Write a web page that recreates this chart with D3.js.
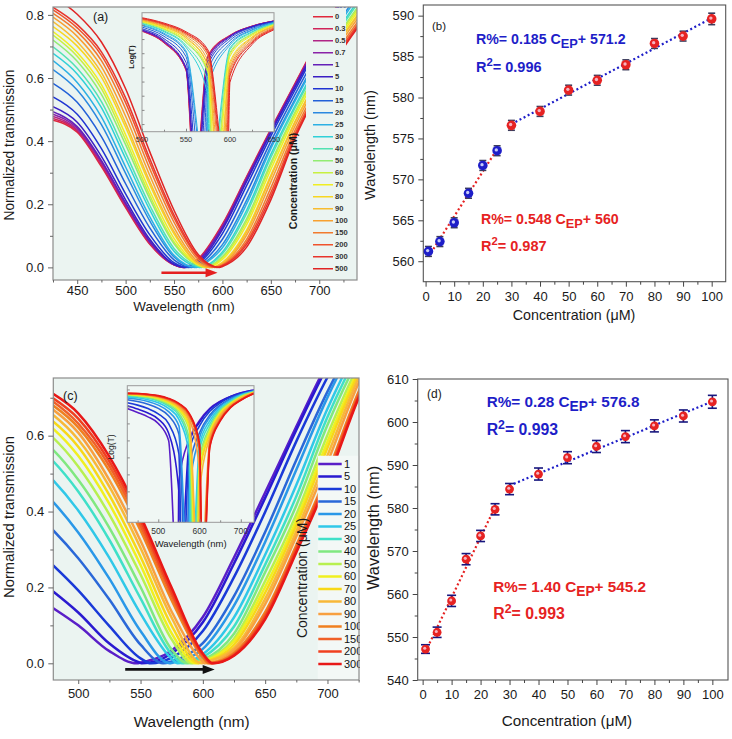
<!DOCTYPE html>
<html>
<head>
<meta charset="utf-8">
<script src="https://cdn.jsdelivr.net/npm/d3@7"></script>
<style>
body { margin: 0; background: #fff; }
svg { display: block; }
</style>
</head>
<body>
<svg id="fig" width="732" height="739"></svg>
<script>
// ---------- data: panel (a) spectra, normalized transmission ----------
const gridA = [425, 450, 475, 500, 525, 550, 575, 600, 625, 650, 675, 700, 725, 750]
const concA = ["0", "0.3", "0.5", "0.7", "1", "5", "10", "15", "20", "25", "30", "40", "50", "60", "70", "80", "90", "100", "150", "200", "300", "500"]
const colorA = ["#e0283c", "#d0245a", "#b02486", "#8a22a8", "#6420b8", "#3a1ec4", "#1f34d2", "#2260d8", "#2a88e0", "#2cb0e4", "#30d0d8", "#52e2b2", "#92ec72", "#c8f040", "#f0ee22", "#f8d620", "#f8bc30", "#f8a030", "#f27a2e", "#f0522c", "#e8342c", "#e02424"]
const dipA = [559.5, 560, 560.5, 561, 561.2, 562.4, 564.7, 568.3, 571.7, 573.5, 576.6, 578.3, 580.9, 582.1, 584, 586.6, 587.5, 589.6, 592, 594, 595.5, 597]
const transA = [
    [0.466, 0.428, 0.319, 0.189, 0.073, 0.008, 0.027, 0.137, 0.288, 0.438, 0.583, 0.727, 0.864, 0.97],
    [0.472, 0.432, 0.324, 0.193, 0.075, 0.008, 0.025, 0.134, 0.285, 0.436, 0.581, 0.724, 0.862, 0.965],
    [0.478, 0.436, 0.330, 0.197, 0.078, 0.009, 0.023, 0.131, 0.283, 0.433, 0.578, 0.722, 0.86, 0.963],
    [0.485, 0.441, 0.335, 0.201, 0.081, 0.009, 0.021, 0.128, 0.28, 0.431, 0.576, 0.72, 0.857, 0.96],
    [0.493, 0.446, 0.339, 0.204, 0.082, 0.009, 0.021, 0.127, 0.28, 0.432, 0.577, 0.719, 0.856, 0.96],
    [0.509, 0.46, 0.352, 0.214, 0.089, 0.01, 0.016, 0.12, 0.272, 0.426, 0.571, 0.713, 0.85, 0.96],
    [0.54, 0.485, 0.376, 0.233, 0.103, 0.015, 0.012, 0.107, 0.259, 0.416, 0.562, 0.705, 0.836, 0.945],
    [0.583, 0.523, 0.414, 0.265, 0.125, 0.024, 0.008, 0.089, 0.236, 0.399, 0.548, 0.688, 0.817, 0.927],
    [0.627, 0.562, 0.452, 0.298, 0.147, 0.033, 0.004, 0.072, 0.213, 0.384, 0.533, 0.673, 0.799, 0.91],
    [0.655, 0.586, 0.477, 0.318, 0.16, 0.038, 0.002, 0.062, 0.201, 0.376, 0.527, 0.667, 0.791, 0.902],
    [0.678, 0.613, 0.506, 0.345, 0.182, 0.051, 0.001, 0.049, 0.181, 0.358, 0.512, 0.652, 0.778, 0.887],
    [0.699, 0.631, 0.525, 0.363, 0.196, 0.06, 0.003, 0.043, 0.171, 0.348, 0.505, 0.645, 0.771, 0.879],
    [0.72, 0.653, 0.548, 0.389, 0.217, 0.075, 0.006, 0.034, 0.154, 0.331, 0.492, 0.634, 0.76, 0.867],
    [0.736, 0.669, 0.566, 0.404, 0.228, 0.081, 0.007, 0.03, 0.146, 0.323, 0.487, 0.629, 0.755, 0.861],
    [0.747, 0.681, 0.579, 0.42, 0.242, 0.092, 0.008, 0.025, 0.135, 0.31, 0.477, 0.619, 0.746, 0.854],
    [0.763, 0.701, 0.603, 0.444, 0.262, 0.106, 0.011, 0.016, 0.118, 0.292, 0.462, 0.607, 0.737, 0.842],
    [0.779, 0.715, 0.617, 0.457, 0.272, 0.113, 0.012, 0.013, 0.112, 0.286, 0.46, 0.605, 0.734, 0.838],
    [0.793, 0.732, 0.636, 0.479, 0.291, 0.126, 0.017, 0.01, 0.102, 0.271, 0.448, 0.595, 0.725, 0.83],
    [0.805, 0.747, 0.655, 0.502, 0.312, 0.143, 0.025, 0.008, 0.089, 0.252, 0.434, 0.583, 0.714, 0.82],
    [0.816, 0.759, 0.672, 0.522, 0.331, 0.157, 0.031, 0.006, 0.08, 0.237, 0.423, 0.573, 0.705, 0.812],
    [0.824, 0.769, 0.683, 0.537, 0.344, 0.166, 0.035, 0.005, 0.073, 0.225, 0.415, 0.565, 0.698, 0.807],
    [0.859, 0.802, 0.714, 0.566, 0.366, 0.181, 0.041, 0.003, 0.064, 0.214, 0.409, 0.562, 0.694, 0.801]
]

// ---------- data: panel (c) spectra ----------
const gridC = [425, 450, 475, 500, 525, 550, 575, 600, 625, 650, 675, 700, 725, 750]
const concC = ["1", "5", "10", "15", "20", "25", "30", "40", "50", "60", "70", "80", "90", "100", "150", "200", "300"]
const colorC = ["#5a1ec8", "#2a1ad0", "#1a3ad8", "#2a68d8", "#2a98e8", "#30c8e8", "#40e0c8", "#80e880", "#b8f050", "#f0f020", "#f8d818", "#f8b838", "#f8a040", "#f08020", "#f06028", "#f04020", "#e81818"]
const dipC = [547.2, 551.1, 558.4, 568.1, 573.5, 579.7, 584.4, 587.9, 591.7, 594.3, 596.6, 599.1, 601.4, 604.7, 606, 607, 608]
const transC = [
    [0.273, 0.209, 0.156, 0.1, 0.032, 0.002, 0.034, 0.122, 0.279, 0.45, 0.624, 0.792, 0.933, 1.03],
    [0.33, 0.264, 0.202, 0.134, 0.052, 0.001, 0.026, 0.108, 0.263, 0.436, 0.615, 0.783, 0.923, 1.0],
    [0.405, 0.345, 0.273, 0.192, 0.098, 0.013, 0.015, 0.085, 0.227, 0.399, 0.585, 0.754, 0.898, 0.985],
    [0.497, 0.442, 0.367, 0.277, 0.168, 0.049, 0.005, 0.053, 0.177, 0.346, 0.536, 0.716, 0.866, 0.969],
    [0.565, 0.514, 0.442, 0.345, 0.223, 0.085, 0.001, 0.038, 0.152, 0.32, 0.51, 0.701, 0.858, 0.968],
    [0.616, 0.567, 0.499, 0.403, 0.278, 0.131, 0.012, 0.024, 0.121, 0.286, 0.47, 0.671, 0.835, 0.953],
    [0.659, 0.61, 0.549, 0.453, 0.325, 0.171, 0.024, 0.016, 0.097, 0.26, 0.44, 0.649, 0.818, 0.943],
    [0.687, 0.633, 0.578, 0.484, 0.357, 0.201, 0.036, 0.009, 0.078, 0.24, 0.416, 0.628, 0.803, 0.933],
    [0.708, 0.66, 0.609, 0.519, 0.392, 0.234, 0.063, 0.007, 0.065, 0.217, 0.392, 0.602, 0.787, 0.922],
    [0.73, 0.681, 0.632, 0.547, 0.42, 0.259, 0.079, 0.004, 0.058, 0.201, 0.377, 0.584, 0.775, 0.916],
    [0.737, 0.697, 0.65, 0.571, 0.443, 0.281, 0.099, 0.003, 0.049, 0.186, 0.364, 0.568, 0.765, 0.909],
    [0.745, 0.712, 0.667, 0.59, 0.466, 0.304, 0.12, 0.001, 0.04, 0.17, 0.348, 0.548, 0.753, 0.902],
    [0.748, 0.724, 0.68, 0.608, 0.483, 0.323, 0.136, 0.004, 0.034, 0.156, 0.334, 0.529, 0.739, 0.892],
    [0.755, 0.736, 0.691, 0.622, 0.507, 0.35, 0.166, 0.015, 0.027, 0.135, 0.311, 0.502, 0.716, 0.877],
    [0.758, 0.745, 0.701, 0.632, 0.52, 0.363, 0.179, 0.019, 0.024, 0.127, 0.304, 0.494, 0.708, 0.873],
    [0.767, 0.757, 0.709, 0.645, 0.532, 0.376, 0.188, 0.023, 0.022, 0.122, 0.299, 0.489, 0.703, 0.87],
    [0.775, 0.762, 0.72, 0.659, 0.545, 0.388, 0.199, 0.026, 0.02, 0.116, 0.292, 0.48, 0.699, 0.865]
]

// ---------- data: panels (b) and (d), resonance wavelength vs concentration ----------
const concB = [1, 5, 10, 15, 20, 25, 30, 40, 50, 60, 70, 80, 90, 100]
const wlB = [561.2, 562.4, 564.7, 568.3, 571.7, 573.5, 576.6, 578.3, 580.9, 582.1, 584.0, 586.6, 587.5, 589.6]
const errB = [0.6, 0.6, 0.6, 0.6, 0.6, 0.6, 0.6, 0.6, 0.6, 0.6, 0.6, 0.6, 0.6, 0.7]
const fitLowB = ["0.548", "560"], r2LowB = "0.987"
const fitHighB = ["0.185", "571.2"], r2HighB = "0.996"

const wlD = [547.2, 551.1, 558.4, 568.1, 573.5, 579.7, 584.4, 587.9, 591.7, 594.3, 596.6, 599.1, 601.4, 604.7]
const errD = [1.0, 1.2, 1.3, 1.3, 1.3, 1.3, 1.3, 1.4, 1.4, 1.4, 1.4, 1.4, 1.4, 1.5]
const fitLowD = ["1.40", "545.2"], r2LowD = "0.993"
const fitHighD = ["0.28", "576.8"], r2HighD = "0.993"

// ---------- drawing ----------
const FONT = "'Liberation Sans', Arial, sans-serif"
const bgPlot = "#ebf4f1"
const BLUE = "#1e1ec8", RED = "#e62222"
const svg = d3.select("#fig").attr("font-family", FONT)
const defs = svg.append("defs")
let clipCount = 0

function addClip(x, y, w, h)
{
    let id = "clip" + (clipCount++)
    defs.append("clipPath").attr("id", id).append("rect")
        .attr("x", x).attr("y", y).attr("width", w).attr("height", h)
    return "url(#" + id + ")"
}

// grid samples plus the zero at the dip, in wavelength order
function curvePoints(grid, vals, dip)
{
    let pts = grid.map((w, i) => [w, vals[i]])
    pts.push([dip, 0])
    pts.sort((a, b) => a[0] - b[0])
    return pts
}

function axis(g, size, color)
{
    g.attr("font-family", FONT).attr("font-size", size)
    g.select(".domain").remove()
    g.selectAll("line").attr("stroke", color)
    g.selectAll("text").attr("fill", "#1a1a1a")
}

function title(x, y, txt, size, rotate, extra)
{
    let t = svg.append("text").attr("x", x).attr("y", y)
        .attr("text-anchor", "middle").attr("font-size", size).attr("fill", "#1a1a1a").text(txt)
    if (rotate) t.attr("transform", `rotate(-90,${x},${y})`)
    if (extra) t.attr("font-weight", extra)
    return t
}

function drawSpectra(p)
{
    let x = d3.scaleLinear().domain(p.xDom).range([p.left, p.right])
    let y = d3.scaleLinear().domain(p.yDom).range([p.bottom, p.top])
    let w = p.right - p.left, h = p.bottom - p.top
    svg.append("rect").attr("x", p.left).attr("y", p.top).attr("width", w).attr("height", h).attr("fill", bgPlot)
    let area = svg.append("g").attr("clip-path", addClip(p.left, p.top, w, h))
    let line = d3.line().x(d => x(d[0])).y(d => y(d[1])).curve(d3.curveMonotoneX)
    p.trans.forEach((vals, i) => {
        area.append("path")
            .attr("d", line(curvePoints(p.grid, vals, p.dips[i])))
            .attr("fill", "none")
            .attr("stroke", p.colors[i])
            .attr("stroke-width", p.lw)
    })
    return {x: x, y: y, w: w, h: h}
}

function spectraAxes(p, s)
{
    svg.append("rect").attr("x", p.left).attr("y", p.top).attr("width", s.w).attr("height", s.h)
        .attr("fill", "none").attr("stroke", "#8c8c8c").attr("stroke-width", 1.2)
    let bx = svg.append("g").attr("transform", `translate(0,${p.bottom})`)
        .call(d3.axisBottom(s.x).tickValues(p.xTicks).tickSize(4).tickPadding(p.xPad).tickFormat(d3.format("d")))
    axis(bx, p.tickFs, "#666")
    let bm = svg.append("g").attr("transform", `translate(0,${p.bottom})`)
        .call(d3.axisBottom(s.x).tickValues(p.xMinor).tickSize(2.5).tickFormat(""))
    axis(bm, p.tickFs, "#666")
    let ly = svg.append("g").attr("transform", `translate(${p.left},0)`)
        .call(d3.axisLeft(s.y).tickValues(p.yTicks).tickSize(5).tickPadding(4).tickFormat(d3.format(".1f")))
    axis(ly, p.tickFs, "#666")
    let lm = svg.append("g").attr("transform", `translate(${p.left},0)`)
        .call(d3.axisLeft(s.y).tickValues(p.yMinor).tickSize(3).tickFormat(""))
    axis(lm, p.tickFs, "#666")
}

function drawInset(p, grid, trans, dips, colors)
{
    let x = d3.scaleLinear().domain(p.xDom).range([p.left, p.right])
    let y = d3.scaleLinear().domain(p.yDom).range([p.bottom, p.top])
    let w = p.right - p.left, h = p.bottom - p.top
    svg.append("rect").attr("x", p.left).attr("y", p.top).attr("width", w).attr("height", h).attr("fill", "#f0f7f4")
    let area = svg.append("g").attr("clip-path", addClip(p.left, p.top, w, h))
    let line = d3.line()
        .x(d => x(d[0]))
        .y(d => y(Math.log10(Math.max(d[1], 1e-6))))
        .curve(d3.curveMonotoneX)
    trans.forEach((vals, i) => {
        area.append("path")
            .attr("d", line(curvePoints(grid, vals, dips[i])))
            .attr("fill", "none").attr("stroke", colors[i]).attr("stroke-width", p.lw)
    })
    svg.append("rect").attr("x", p.left).attr("y", p.top).attr("width", w).attr("height", h)
        .attr("fill", "none").attr("stroke", "#999").attr("stroke-width", 1)
    let bx = svg.append("g").attr("transform", `translate(0,${p.bottom})`)
        .call(d3.axisTop(x).tickValues(p.xTicks).tickSize(3).tickFormat(""))
    axis(bx, p.fs, "#888")
    let bm = svg.append("g").attr("transform", `translate(0,${p.bottom})`)
        .call(d3.axisTop(x).tickValues(p.xMinor).tickSize(2).tickFormat(""))
    axis(bm, p.fs, "#888")
    let ly = svg.append("g").attr("transform", `translate(${p.left},0)`)
        .call(d3.axisRight(y).tickValues(d3.range(Math.ceil(p.yDom[0] * 2) / 2, p.yDom[1], 0.5)).tickSize(2.5).tickFormat(""))
    axis(ly, p.fs, "#888")
    p.xTicks.forEach(v => {
        svg.append("text").attr("x", x(v)).attr("y", p.bottom + p.fs + 3)
            .attr("text-anchor", "middle").attr("font-size", p.fs).attr("fill", "#333").text(v)
    })
    title(p.ltx, p.lty, "Log(T)", p.fs, true, p.bold ? "bold" : null)
    if (p.xTitle) title((p.left + p.right) / 2, p.bottom + 2 * p.fs + 8, "Wavelength (nm)", p.fs + 1)
}

function drawLegend(p)
{
    let g = svg.append("g").attr("clip-path", addClip(p.box[0], p.box[1], p.clipW, p.box[3]))
    g.append("rect").attr("x", p.box[0]).attr("y", p.box[1]).attr("width", p.box[2]).attr("height", p.box[3]).attr("fill", p.fill)
    p.labels.forEach((lab, i) => {
        let yy = p.y0 + i * p.step
        g.append("line").attr("x1", p.x1).attr("x2", p.x2).attr("y1", yy).attr("y2", yy)
            .attr("stroke", p.colors[i]).attr("stroke-width", p.lw)
        g.append("text").attr("x", p.tx).attr("y", yy).attr("dy", "0.35em")
            .attr("font-size", p.fs).attr("font-weight", p.fw).attr("fill", p.tc).text(lab)
    })
}

function arrow(x0, x1, y, color)
{
    svg.append("line").attr("x1", x0).attr("x2", x1 - 9).attr("y1", y).attr("y2", y)
        .attr("stroke", color).attr("stroke-width", 2.6)
    svg.append("path").attr("d", `M${x1},${y} L${x1 - 12},${y - 4.5} L${x1 - 12},${y + 4.5} Z`).attr("fill", color)
}

function fitLabel(x0, y0, color, fs, fit)
{
    let t = svg.append("text").attr("x", x0).attr("y", y0).attr("fill", color)
        .attr("font-size", fs).attr("font-weight", "bold")
    t.append("tspan").text("R%= " + fit[0] + " C")
    t.append("tspan").attr("dy", fs * 0.28).attr("font-size", fs * 0.9).text("EP")
    t.append("tspan").attr("dy", -fs * 0.28).text("+ " + fit[1])
}

function r2Label(x0, y0, color, fs, r2)
{
    let t = svg.append("text").attr("x", x0).attr("y", y0).attr("fill", color)
        .attr("font-size", fs).attr("font-weight", "bold")
    t.append("tspan").text("R")
    t.append("tspan").attr("dy", -fs * 0.38).attr("font-size", fs * 0.78).text("2")
    t.append("tspan").attr("dy", fs * 0.38).text("= " + r2)
}

function drawScatter(p)
{
    let x = d3.scaleLinear().domain(p.xDom).range([p.left, p.right])
    let y = d3.scaleLinear().domain(p.yDom).range([p.bottom, p.top])
    svg.append("rect").attr("x", p.left).attr("y", p.top).attr("width", p.right - p.left).attr("height", p.bottom - p.top)
        .attr("fill", "none").attr("stroke", "#555").attr("stroke-width", 1.1)
    let bx = svg.append("g").attr("transform", `translate(0,${p.bottom})`)
        .call(d3.axisBottom(x).tickValues(d3.range(0, 101, 10)).tickSize(5).tickPadding(5))
    axis(bx, p.tickFs, "#444")
    let bm = svg.append("g").attr("transform", `translate(0,${p.bottom})`)
        .call(d3.axisBottom(x).tickValues(d3.range(5, 100, 10)).tickSize(3).tickFormat(""))
    axis(bm, p.tickFs, "#444")
    let ly = svg.append("g").attr("transform", `translate(${p.left},0)`)
        .call(d3.axisLeft(y).tickValues(p.yTicks).tickSize(5).tickPadding(4))
    axis(ly, p.tickFs, "#444")
    let lm = svg.append("g").attr("transform", `translate(${p.left},0)`)
        .call(d3.axisLeft(y).tickValues(p.yMinor).tickSize(3).tickFormat(""))
    axis(lm, p.tickFs, "#444")

    // dotted linear fits, low range (<=25) and high range (>=30)
    let fl = d3.line().x(d => x(d[0])).y(d => y(d[1]))
    let low = p.conc.filter(c => c <= 25), high = p.conc.filter(c => c >= 30)
    svg.append("path").attr("d", fl(low.map(c => [c, +p.fitLow[0] * c + +p.fitLow[1]])))
        .attr("fill", "none").attr("stroke", RED).attr("stroke-width", 2.2).attr("stroke-dasharray", "2,2.6")
    svg.append("path").attr("d", fl(high.map(c => [c, +p.fitHigh[0] * c + +p.fitHigh[1]])))
        .attr("fill", "none").attr("stroke", BLUE).attr("stroke-width", 2.2).attr("stroke-dasharray", "2,2.6")

    // error bars and markers
    p.conc.forEach((c, i) => {
        let cx = x(c), y1 = y(p.wl[i] + p.err[i]), y2 = y(p.wl[i] - p.err[i])
        svg.append("line").attr("x1", cx).attr("x2", cx).attr("y1", y1).attr("y2", y2)
            .attr("stroke", p.errColor).attr("stroke-width", 1.6)
        ;[y1, y2].forEach(yy => svg.append("line").attr("x1", cx - p.cap).attr("x2", cx + p.cap)
            .attr("y1", yy).attr("y2", yy).attr("stroke", p.errColor).attr("stroke-width", 1.6))
    })
    p.conc.forEach((c, i) => {
        let col = p.markColor(c)
        svg.append("circle").attr("cx", x(c)).attr("cy", y(p.wl[i])).attr("r", p.r).attr("fill", col)
        svg.append("circle").attr("cx", x(c) - 0.8).attr("cy", y(p.wl[i]) - 0.8).attr("r", p.r * 0.35)
            .attr("fill", col == RED ? "#f6b4c0" : "#c8ccf8")
    })
    return {x: x, y: y}
}

// ===== panel (a) =====
const pa = {left: 53, right: 357, top: 7, bottom: 280, xDom: [425, 739], yDom: [-0.04, 0.825],
    grid: gridA, trans: transA, dips: dipA, colors: colorA, lw: 1.5,
    xTicks: [450, 500, 550, 600, 650, 700], xMinor: [425, 475, 525, 575, 625, 675, 725],
    yTicks: [0, 0.2, 0.4, 0.6, 0.8], yMinor: [0.1, 0.3, 0.5, 0.7], tickFs: 13, xPad: 1.5}
const sa = drawSpectra(pa)
drawInset({left: 142, right: 274, top: 12.7, bottom: 131.7, xDom: [500, 650], yDom: [-4.27, -0.07],
    xTicks: [500, 550, 600, 650], xMinor: [525, 575, 625], fs: 7.5, lw: 1, bold: true, ltx: 134, lty: 57},
    gridA, transA, dipA, colorA)
drawLegend({box: [306, 7.6, 40, 272], clipW: 52, fill: bgPlot, labels: concA, colors: colorA,
    y0: 16.7, step: 12, x1: 313, x2: 333, tx: 335, lw: 1.4, fs: 7.6, fw: "bold", tc: "#333"})
title(296.5, 181, "Concentration (μM)", 10.5, true, "bold")
spectraAxes(pa, sa)
arrow(sa.x(537), sa.x(595), sa.y(-0.017), "#e42020")
svg.append("text").attr("x", 93).attr("y", 21).attr("font-size", 12.5).attr("fill", "#1a1a1a").text("(a)")
title(13.5, 145, "Normalized transmission", 13.8, true)
title(184, 311, "Wavelength (nm)", 13.4)

// ===== panel (b) =====
drawScatter({left: 423.3, right: 725.7, top: 5, bottom: 281.7, xDom: [-0.8, 104.9], yDom: [557.5, 591.3],
    yTicks: d3.range(560, 591, 5), yMinor: d3.range(562.5, 590, 5), tickFs: 13,
    conc: concB, wl: wlB, err: errB, fitLow: fitLowB, fitHigh: fitHighB,
    errColor: "#3c3c5c", cap: 3.5, r: 4.8, markColor: c => c <= 25 ? BLUE : RED})
svg.append("text").attr("x", 432).attr("y", 29.5).attr("font-size", 11.5).attr("fill", "#1a1a1a").text("(b)")
fitLabel(476, 44, BLUE, 14.2, fitHighB)
r2Label(476, 71.5, BLUE, 14.5, r2HighB)
fitLabel(481, 224, RED, 14.2, fitLowB)
r2Label(481, 250.5, RED, 14.5, r2LowB)
title(374.5, 145, "Wavelength (nm)", 14.5, true)
title(574, 320, "Concentration (μM)", 14.3)

// ===== panel (c) =====
const pc = {left: 53.3, right: 359, top: 378, bottom: 680, xDom: [480, 725.3], yDom: [-0.044, 0.752],
    grid: gridC, trans: transC, dips: dipC, colors: colorC, lw: 2.5,
    xTicks: [500, 550, 600, 650, 700], xMinor: [525, 575, 625, 675, 725],
    yTicks: [0, 0.2, 0.4, 0.6], yMinor: [0.1, 0.3, 0.5, 0.7], tickFs: 13, xPad: 5}
const sc = drawSpectra(pc)
drawInset({left: 127.3, right: 254, top: 385.7, bottom: 522.3, xDom: [425, 732], yDom: [-3.91, 0.11],
    xTicks: [500, 600, 700], xMinor: [450, 550, 650], fs: 8.5, lw: 1.6, bold: false, xTitle: true, ltx: 114, lty: 447},
    gridC, transC, dipC, colorC)
drawLegend({box: [317.5, 455.5, 45, 224], clipW: 42.5, fill: "#f3f8f6", labels: concC, colors: colorC,
    y0: 464, step: 12.5, x1: 318.3, x2: 341.7, tx: 344, lw: 2.6, fs: 11, fw: "normal", tc: "#111"})
title(306.7, 578, "Concentration (μM)", 14, true)
spectraAxes(pc, sc)
arrow(sc.x(537.7), sc.x(609.5), sc.y(-0.016), "#111")
svg.append("text").attr("x", 63).attr("y", 400).attr("font-size", 12.5).attr("fill", "#1a1a1a").text("(c)")
title(14, 517, "Normalized transmission", 14.8, true)
title(191.7, 727, "Wavelength (nm)", 15.3)

// ===== panel (d) =====
drawScatter({left: 417.7, right: 728, top: 379, bottom: 680, xDom: [-1.7, 105.4], yDom: [540, 610],
    yTicks: d3.range(540, 611, 10), yMinor: d3.range(545, 610, 10), tickFs: 13,
    conc: concB, wl: wlD, err: errD, fitLow: fitLowD, fitHigh: fitHighD,
    errColor: "#16167e", cap: 4.5, r: 4.4, markColor: c => RED})
svg.append("text").attr("x", 427).attr("y", 398).attr("font-size", 12).attr("fill", "#1a1a1a").text("(d)")
fitLabel(486.7, 406.5, BLUE, 15.3, fitHighD)
r2Label(486.7, 435, BLUE, 15.8, r2HighD)
fitLabel(493.3, 591.5, RED, 15.3, fitLowD)
r2Label(493.3, 619, RED, 15.8, r2LowD)
title(379, 528, "Wavelength (nm)", 16.4, true)
title(567, 725.5, "Concentration (μM)", 15.2)
</script>
</body>
</html>
